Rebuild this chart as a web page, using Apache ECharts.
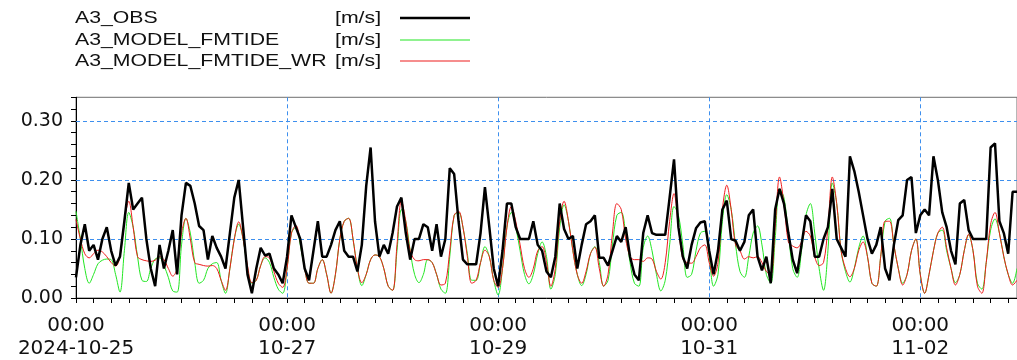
<!DOCTYPE html>
<html>
<head>
<meta charset="utf-8">
<title>A3 current speed</title>
<script src="https://cdn.jsdelivr.net/npm/echarts@6/dist/echarts.min.js"></script>
<style>
  html, body { margin: 0; padding: 0; background: #fff; }
  #chart { width: 1017px; height: 360px; }
</style>
</head>
<body>
<div id="chart"></div>
<script>
// Hourly samples starting 2024-10-25 00:00 (UTC), 215 hours.
const START = Date.UTC(2024, 9, 25, 0);
const HOURS = 215;

// Observed current speed [m/s]
const obs = [
  0.035, 0.09, 0.125, 0.08, 0.09, 0.065, 0.10, 0.12, 0.08, 0.055,
  0.07, 0.13, 0.195, 0.15, 0.16, 0.17, 0.10, 0.05, 0.02, 0.09,
  0.05, 0.08, 0.115, 0.04, 0.14, 0.195, 0.19, 0.16, 0.122, 0.115,
  0.065, 0.105, 0.085, 0.07, 0.05, 0.11, 0.17, 0.20, 0.12, 0.04,
  0.008, 0.05, 0.085, 0.072, 0.075, 0.05, 0.04, 0.025, 0.07, 0.14,
  0.12, 0.10, 0.05, 0.03, 0.08, 0.13, 0.07, 0.07, 0.09, 0.115,
  0.13, 0.08, 0.07, 0.07, 0.045, 0.09, 0.19, 0.255, 0.13, 0.07,
  0.09, 0.075, 0.11, 0.155, 0.17, 0.11, 0.065, 0.10, 0.10, 0.125,
  0.12, 0.08, 0.125, 0.07, 0.10, 0.22, 0.21, 0.13, 0.065, 0.057,
  0.057, 0.057, 0.11, 0.188, 0.12, 0.05, 0.02, 0.08, 0.16, 0.16,
  0.12, 0.10, 0.10, 0.10, 0.13, 0.09, 0.08, 0.045, 0.035, 0.07,
  0.16, 0.117, 0.10, 0.105, 0.05, 0.09, 0.125, 0.13, 0.14, 0.068,
  0.068, 0.055, 0.08, 0.105, 0.095, 0.12, 0.07, 0.04, 0.03, 0.11,
  0.14, 0.11, 0.107, 0.107, 0.107, 0.17, 0.235, 0.12, 0.07, 0.05,
  0.09, 0.118, 0.128, 0.13, 0.08, 0.04, 0.08, 0.15, 0.165, 0.10,
  0.097, 0.08, 0.095, 0.14, 0.15, 0.07, 0.047, 0.07, 0.025, 0.15,
  0.185, 0.16, 0.11, 0.065, 0.042, 0.09, 0.14, 0.13, 0.07, 0.07,
  0.10, 0.12, 0.185, 0.10, 0.085, 0.07, 0.24, 0.215, 0.18, 0.14,
  0.10, 0.075, 0.09, 0.12, 0.05, 0.03, 0.09, 0.132, 0.14, 0.20,
  0.205, 0.11, 0.14, 0.15, 0.14, 0.24, 0.20, 0.145, 0.12, 0.08,
  0.057, 0.16, 0.166, 0.115, 0.10, 0.10, 0.10, 0.10, 0.255, 0.262,
  0.13, 0.11, 0.075, 0.18, 0.18
];

// Model run FMTIDE [m/s]
const fmtide = [
  0.147, 0.10, 0.05, 0.025, 0.04, 0.058, 0.064, 0.066, 0.065, 0.04,
  0.01, 0.08, 0.145, 0.12, 0.07, 0.03, 0.028, 0.05, 0.066, 0.068,
  0.055, 0.035, 0.012, 0.01, 0.09, 0.135, 0.11, 0.06, 0.025, 0.03,
  0.05, 0.058, 0.06, 0.03, 0.008, 0.05, 0.10, 0.125, 0.10, 0.05,
  0.025, 0.03, 0.055, 0.068, 0.06, 0.035, 0.015, 0.008, 0.05, 0.11,
  0.12, 0.09, 0.05, 0.025, 0.025, 0.05, 0.065, 0.04, 0.008, 0.04,
  0.10, 0.13, 0.135, 0.10, 0.05, 0.021, 0.04, 0.065, 0.073, 0.07,
  0.05, 0.02, 0.013, 0.08, 0.15, 0.13, 0.08, 0.04, 0.026, 0.04,
  0.065, 0.06, 0.04, 0.015, 0.008, 0.07, 0.14, 0.145, 0.12, 0.075,
  0.03, 0.03, 0.06, 0.087, 0.07, 0.03, 0.005, 0.05, 0.12, 0.145,
  0.12, 0.08, 0.04, 0.024, 0.04, 0.075, 0.095, 0.07, 0.015, 0.04,
  0.12, 0.158, 0.13, 0.08, 0.04, 0.021, 0.04, 0.075, 0.087, 0.06,
  0.02, 0.03, 0.09, 0.14, 0.145, 0.11, 0.06, 0.025, 0.02, 0.085,
  0.105, 0.08, 0.04, 0.012, 0.03, 0.09, 0.155, 0.14, 0.09, 0.035,
  0.04, 0.08, 0.11, 0.113, 0.07, 0.02, 0.04, 0.13, 0.175, 0.15,
  0.09, 0.045, 0.035, 0.07, 0.11, 0.122, 0.09, 0.04, 0.025, 0.10,
  0.185, 0.17, 0.11, 0.05, 0.035, 0.08, 0.14, 0.16, 0.11, 0.05,
  0.013, 0.08, 0.195, 0.16, 0.08, 0.045, 0.027, 0.05, 0.085, 0.105,
  0.07, 0.025, 0.02, 0.07, 0.13, 0.135, 0.09, 0.05, 0.025, 0.04,
  0.08, 0.10, 0.04, 0.008, 0.04, 0.08, 0.11, 0.115, 0.08, 0.05,
  0.026, 0.04, 0.08, 0.107, 0.08, 0.025, 0.015, 0.06, 0.115, 0.134,
  0.11, 0.07, 0.04, 0.025, 0.05
];

// Model run FMTIDE_WR [m/s]
const fmtideWr = [
  0.133, 0.10, 0.075, 0.068, 0.075, 0.081, 0.078, 0.07, 0.06, 0.054,
  0.07, 0.13, 0.164, 0.12, 0.07, 0.065, 0.063, 0.062, 0.064, 0.07,
  0.065, 0.05, 0.037, 0.05, 0.11, 0.135, 0.10, 0.06, 0.057, 0.055,
  0.054, 0.055, 0.05, 0.03, 0.013, 0.05, 0.10, 0.129, 0.10, 0.055,
  0.026, 0.03, 0.055, 0.07, 0.068, 0.045, 0.025, 0.018, 0.05, 0.11,
  0.123, 0.095, 0.05, 0.025, 0.025, 0.05, 0.065, 0.04, 0.008, 0.04,
  0.10, 0.13, 0.135, 0.10, 0.05, 0.026, 0.04, 0.065, 0.073, 0.07,
  0.05, 0.02, 0.013, 0.09, 0.165, 0.13, 0.08, 0.065, 0.063, 0.065,
  0.065, 0.06, 0.04, 0.022, 0.025, 0.08, 0.14, 0.147, 0.12, 0.07,
  0.025, 0.03, 0.06, 0.081, 0.07, 0.03, 0.018, 0.05, 0.12, 0.155,
  0.13, 0.09, 0.05, 0.035, 0.05, 0.08, 0.087, 0.06, 0.02, 0.05,
  0.13, 0.164, 0.13, 0.08, 0.04, 0.025, 0.045, 0.075, 0.086, 0.05,
  0.02, 0.04, 0.11, 0.16, 0.15, 0.10, 0.07, 0.065, 0.065, 0.062,
  0.068, 0.066, 0.045, 0.032, 0.06, 0.13, 0.177, 0.12, 0.066, 0.06,
  0.059, 0.07, 0.085, 0.09, 0.06, 0.037, 0.06, 0.15, 0.191, 0.15,
  0.09, 0.08, 0.066, 0.07, 0.068, 0.07, 0.06, 0.045, 0.04, 0.12,
  0.205, 0.16, 0.095, 0.088, 0.085, 0.095, 0.113, 0.105, 0.07, 0.055,
  0.06, 0.12, 0.205, 0.16, 0.08, 0.05, 0.036, 0.05, 0.08, 0.095,
  0.07, 0.025, 0.02, 0.07, 0.13, 0.13, 0.09, 0.05, 0.022, 0.04,
  0.08, 0.10, 0.04, 0.008, 0.04, 0.08, 0.11, 0.12, 0.085, 0.05,
  0.022, 0.04, 0.08, 0.108, 0.08, 0.02, 0.008, 0.06, 0.125, 0.145,
  0.11, 0.07, 0.04, 0.022, 0.03
];

// Horizontal reference levels [m/s]
const gridLevels = [0.10, 0.20, 0.30];

const seriesNames = ['A3_OBS', 'A3_MODEL_FMTIDE', 'A3_MODEL_FMTIDE_WR'];
const seriesUnit = '[m/s]';
const seriesColors = ['#000000', '#22e622', '#ee1c1c'];

// Hourly time stamps used as category labels
const pad = n => String(n).padStart(2, '0');
const times = [];
for (let i = 0; i < HOURS; i++) {
  const d = new Date(START + i * 3600000);
  times.push(d.getUTCFullYear() + '-' + pad(d.getUTCMonth() + 1) + '-' + pad(d.getUTCDate()) +
    ' ' + pad(d.getUTCHours()) + ':' + pad(d.getUTCMinutes()));
}

const LEGEND_FONT = '"Liberation Sans", Arial, sans-serif';
const AXIS_FONT = '"DejaVu Sans", sans-serif';
const GRID_BLUE = '#3d8fee';

const chart = echarts.init(document.getElementById('chart'), null, { renderer: 'canvas' });

// Legend block: name, unit and a line sample per series (wide lettering)
const legendGraphics = [];
const rowY = [18, 40, 61];
const LEGEND_STRETCH = 1.25;
seriesNames.forEach((name, i) => {
  legendGraphics.push({
    type: 'text', x: 75, y: rowY[i], scaleX: LEGEND_STRETCH, silent: true,
    style: { text: name, x: 0, y: 0, font: '17px ' + LEGEND_FONT, fill: '#111', textVerticalAlign: 'middle' }
  });
  legendGraphics.push({
    type: 'text', x: 335, y: rowY[i], scaleX: LEGEND_STRETCH, silent: true,
    style: { text: seriesUnit, x: 0, y: 0, font: '17px ' + LEGEND_FONT, fill: '#111', textVerticalAlign: 'middle' }
  });
  legendGraphics.push({
    type: 'line', silent: true,
    shape: { x1: 400, y1: rowY[i], x2: 470, y2: rowY[i] },
    style: { stroke: seriesColors[i], lineWidth: i === 0 ? 2.5 : 1.2 }
  });
});

chart.setOption({
  animation: false,
  backgroundColor: '#ffffff',
  graphic: legendGraphics,
  grid: {
    left: 76, right: 0, top: 97.3, height: 205.4,
    show: true, borderColor: '#6e6e6e', borderWidth: 1, backgroundColor: 'transparent'
  },
  xAxis: {
    type: 'category',
    data: times,
    boundaryGap: false,
    axisLine: { lineStyle: { color: '#000', width: 1 } },
    axisTick: {
      show: true, length: 5, inside: false,
      interval: idx => idx % 4 === 0,
      lineStyle: { color: '#000', width: 1 }
    },
    axisLabel: {
      interval: idx => idx % 48 === 0,
      fontFamily: AXIS_FONT, fontSize: 20, color: '#111', lineHeight: 23, margin: 16,
      formatter: (val, idx) => {
        const hm = val.slice(11);
        return idx === 0 ? hm + '\n' + val.slice(0, 10) : hm + '\n' + val.slice(5, 10);
      }
    },
    splitLine: {
      show: true,
      interval: idx => idx > 0 && idx % 48 === 0,
      lineStyle: { color: GRID_BLUE, type: [4, 3], width: 1 }
    }
  },
  yAxis: {
    type: 'value',
    min: 0, max: 0.34, interval: 0.02,
    axisLine: { show: true, lineStyle: { color: '#000', width: 1 } },
    axisTick: { show: true, length: 5, lineStyle: { color: '#000', width: 1 } },
    axisLabel: {
      fontFamily: AXIS_FONT, fontSize: 19, color: '#111', margin: 13,
      formatter: v => (Math.round(v * 100) % 10 === 0 ? v.toFixed(2) : '')
    },
    splitLine: { show: false }
  },
  series: [
    {
      name: seriesNames[1], type: 'line', data: fmtide, showSymbol: false, smooth: 0.35,
      lineStyle: { color: seriesColors[1], width: 1 }, z: 2,
      markLine: {
        silent: true, symbol: 'none', z: 1,
        label: { show: false },
        lineStyle: { color: GRID_BLUE, type: [4, 3], width: 1 },
        data: gridLevels.map(v => ({ yAxis: v }))
      }
    },
    {
      name: seriesNames[2], type: 'line', data: fmtideWr, showSymbol: false, smooth: 0.35,
      lineStyle: { color: seriesColors[2], width: 1 }, z: 3
    },
    {
      name: seriesNames[0], type: 'line', data: obs, showSymbol: false,
      lineStyle: { color: seriesColors[0], width: 2.5 }, z: 4
    }
  ]
});
</script>
</body>
</html>
